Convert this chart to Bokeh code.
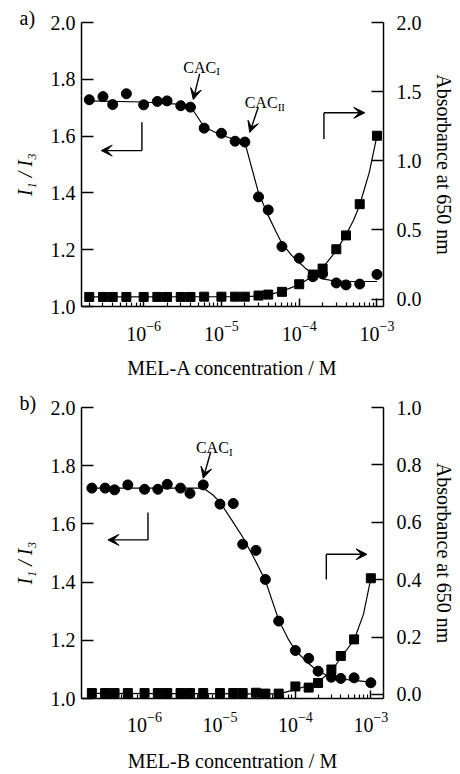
import math
from bokeh.plotting import figure
from bokeh.layouts import column
from bokeh.models import (Range1d, LinearAxis, FixedTicker, LogTickFormatter,
                          PrintfTickFormatter, Label, Arrow, VeeHead)
from bokeh.embed import file_html
from bokeh.resources import INLINE

# ---------------- data ----------------
conc = [2e-7, 3e-7, 4e-7, 6e-7, 1e-6, 1.5e-6, 2e-6, 3e-6, 4e-6, 6e-6, 1e-5, 1.5e-5,
        2e-5, 3e-5, 4e-5, 6e-5, 1e-4, 1.5e-4, 2e-4, 3e-4, 4e-4, 6e-4, 1e-3]

# panel a) MEL-A
a_ratio = [1.728, 1.739, 1.711, 1.749, 1.710, 1.722, 1.724, 1.707, 1.702, 1.628, 1.610, 1.582,
           1.579, 1.386, 1.340, 1.211, 1.170, 1.105, 1.115, 1.083, 1.076, 1.079, 1.113]
a_abs = [0.015, 0.015, 0.015, 0.015, 0.015, 0.015, 0.015, 0.015, 0.015, 0.017, 0.017, 0.017,
         0.017, 0.025, 0.032, 0.052, 0.107, 0.177, 0.220, 0.360, 0.460, 0.686, 1.181]
a_fit_ratio_x = [2e-7, 1e-6, 3e-6, 4e-6, 6e-6, 1e-5, 1.5e-5, 2e-5, 2.5e-5, 3e-5, 4e-5, 5e-5,
                 6e-5, 8e-5, 1e-4, 1.2e-4, 1.5e-4, 2e-4, 3e-4, 5e-4, 1e-3]
a_fit_ratio_y = [1.724, 1.720, 1.712, 1.705, 1.632, 1.603, 1.588, 1.578, 1.480, 1.400, 1.320, 1.265,
                 1.222, 1.180, 1.155, 1.135, 1.115, 1.097, 1.089, 1.088, 1.088]
a_fit_abs_x = [2e-7, 2e-5, 3e-5, 4e-5, 6e-5, 1e-4, 1.5e-4, 2e-4, 3e-4, 4e-4, 5e-4, 6e-4, 8e-4, 1e-3]
a_fit_abs_y = [0.015, 0.017, 0.022, 0.030, 0.055, 0.105, 0.165, 0.225, 0.350, 0.465, 0.570, 0.680, 0.920, 1.181]

# panel b) MEL-B
b_ratio = [1.723, 1.723, 1.717, 1.734, 1.719, 1.719, 1.736, 1.723, 1.705, 1.734, 1.668, 1.670,
           1.530, 1.509, 1.409, 1.266, 1.165, 1.138, 1.094, 1.073, 1.069, 1.071, 1.054]
b_abs = [0.005, 0.005, 0.005, 0.005, 0.005, 0.005, 0.005, 0.005, 0.005, 0.005, 0.005, 0.005,
         0.005, 0.006, 0.003, 0.003, 0.028, 0.024, 0.040, 0.087, 0.134, 0.192, 0.405]
b_fit_ratio_x = [2e-7, 6e-6, 8e-6, 1e-5, 1.5e-5, 2e-5, 3e-5, 4e-5, 6e-5, 8e-5, 1e-4, 1.5e-4,
                 2e-4, 3e-4, 4e-4, 6e-4, 1e-3]
b_fit_ratio_y = [1.723, 1.723, 1.700, 1.675, 1.605, 1.555, 1.470, 1.405, 1.270, 1.205, 1.165, 1.120,
                 1.093, 1.073, 1.067, 1.062, 1.056]
b_fit_abs_x = [2e-7, 6e-5, 1e-4, 1.5e-4, 2e-4, 3e-4, 4e-4, 6e-4, 8e-4, 1e-3]
b_fit_abs_y = [0.004, 0.002, 0.017, 0.032, 0.044, 0.081, 0.128, 0.190, 0.280, 0.405]

# ticks
x_major = [1e-6, 1e-5, 1e-4, 1e-3]
x_minor = [m * 10.0 ** e for e in range(-7, -2) for m in range(2, 10)]
ratio_ticks = [1.0, 1.2, 1.4, 1.6, 1.8, 2.0]
abs_ticks_a = [0.0, 0.5, 1.0, 1.5, 2.0]
abs_ticks_b = [0.0, 0.2, 0.4, 0.6, 0.8, 1.0]

FONT = "Liberation Serif"


def style_axis(ax, tick_in, minor_in=0):
    ax.axis_line_color = "black"
    ax.axis_line_width = 1.5
    ax.major_tick_line_color = "black"
    ax.major_tick_line_width = 1.5
    ax.major_tick_in = tick_in
    ax.major_tick_out = 0
    ax.minor_tick_in = minor_in
    ax.minor_tick_out = 0
    ax.minor_tick_line_color = "black" if minor_in else None
    ax.minor_tick_line_width = 1.2
    ax.major_label_text_font = FONT
    ax.major_label_text_font_size = "20px"
    ax.major_label_text_color = "black"
    ax.axis_label_text_font = FONT
    ax.axis_label_text_font_size = "20px"
    ax.axis_label_text_font_style = "normal"
    ax.axis_label_text_color = "black"


def arrow(p, x0, y0, x1, y1, head=True):
    p.add_layout(Arrow(x_start=x0, y_start=y0, x_end=x1, y_end=y1,
                       line_color="black", line_width=1.4,
                       end=VeeHead(size=11, fill_color="black", line_color="black", line_width=1) if head else None))


def cac(p, x, y, sub):
    p.add_layout(Label(x=x, y=y, text="CAC", text_font=FONT, text_font_size="16px",
                       text_color="black", text_baseline="alphabetic", text_align="left"))
    p.add_layout(Label(x=x, y=y, x_offset=33, y_offset=-4, text=sub, text_font=FONT,
                       text_font_size="11px", text_color="black",
                       text_baseline="alphabetic", text_align="left"))


def panel(tag, xlabel, ratio, absb, frx, fry, fax, fay, xr, absr, abs_ticks,
          height, borders, tick_standoff, xl_standoff):
    left, right, top, bottom = borders
    p = figure(width=460, height=height, x_axis_type="log",
               x_range=Range1d(*xr), y_range=Range1d(1.0, 2.0),
               output_backend="svg", toolbar_location=None,
               min_border_left=left, min_border_right=right,
               min_border_top=top, min_border_bottom=bottom)
    p.outline_line_color = None
    p.xgrid.visible = False
    p.ygrid.visible = False
    p.background_fill_color = "white"
    p.border_fill_color = "white"

    # panel tag ("a)" / "b)") as a left-aligned title pulled to the left of the frame
    p.title.text = tag
    p.title.align = "left"
    p.title.offset = -62
    p.title.standoff = -13
    p.title.text_font = FONT
    p.title.text_font_size = "20px"
    p.title.text_font_style = "normal"
    p.title.text_color = "black"

    xa = p.xaxis[0]
    xa.ticker = FixedTicker(ticks=x_major, minor_ticks=x_minor)
    xa.formatter = LogTickFormatter()
    xa.axis_label = xlabel
    style_axis(xa, 8, 4)
    xa.major_label_standoff = tick_standoff
    xa.axis_label_standoff = xl_standoff

    ya = p.yaxis[0]
    ya.ticker = FixedTicker(ticks=ratio_ticks)
    ya.formatter = PrintfTickFormatter(format="%.1f")
    style_axis(ya, 12)
    ya.major_label_standoff = 6
    ya.axis_label = "I\u2081 / I\u2083\u2003"
    ya.axis_label_text_font_style = "italic"
    ya.axis_label_standoff = 12

    p.extra_y_ranges = {"abs": Range1d(*absr)}
    ra = LinearAxis(y_range_name="abs", ticker=FixedTicker(ticks=abs_ticks),
                    formatter=PrintfTickFormatter(format="%.1f"),
                    axis_label="Absorbance at 650 nm")
    style_axis(ra, 12)
    ra.major_label_standoff = 13
    ra.axis_label_standoff = 8
    p.add_layout(ra, "right")

    p.line(frx, fry, line_color="black", line_width=1.2)
    p.line(fax, fay, line_color="black", line_width=1.2, y_range_name="abs")
    p.scatter(conc, ratio, marker="circle", size=10, fill_color="black", line_color="black")
    p.scatter(conc, absb, marker="square", size=9, fill_color="black", line_color="black",
              y_range_name="abs")
    return p


p1 = panel("a)", "MEL-A concentration / M", a_ratio, a_abs,
           a_fit_ratio_x, a_fit_ratio_y, a_fit_abs_x, a_fit_abs_y,
           (10 ** -6.799, 10 ** -2.916), (-0.054, 2.0), abs_ticks_a,
           385, (81, 77, 22, 79), 14, 13)
cac(p1, 3.24e-6, 1.843, "I")
arrow(p1, 5.25e-6, 1.820, 4.35e-6, 1.729)
cac(p1, 1.99e-5, 1.718, "II")
arrow(p1, 2.97e-5, 1.701, 2.31e-5, 1.613)
arrow(p1, 9.5e-7, 1.649, 9.5e-7, 1.549, head=False)
arrow(p1, 9.5e-7, 1.549, 2.85e-7, 1.549)
arrow(p1, 2.08e-4, 1.590, 2.08e-4, 1.682, head=False)
arrow(p1, 2.08e-4, 1.682, 6.97e-4, 1.682)

p2 = panel("b)", "MEL-B concentration / M", b_ratio, b_abs,
           b_fit_ratio_x, b_fit_ratio_y, b_fit_abs_x, b_fit_abs_y,
           (10 ** -6.836, 10 ** -2.832), (-0.014, 1.0), abs_ticks_b,
           389, (79, 77, 22, 76), 13, 15)
cac(p2, 4.8e-6, 1.862, "I")
arrow(p2, 7.55e-6, 1.848, 6.0e-6, 1.757)
arrow(p2, 1.11e-6, 1.639, 1.11e-6, 1.545, head=False)
arrow(p2, 1.11e-6, 1.545, 3.27e-7, 1.545)
arrow(p2, 2.57e-4, 1.409, 2.57e-4, 1.4955, head=False)
arrow(p2, 2.57e-4, 1.4955, 8.9e-4, 1.4955)

layout = column(p1, p2, spacing=0)
open("out.html", "w").write(file_html(layout, INLINE))
